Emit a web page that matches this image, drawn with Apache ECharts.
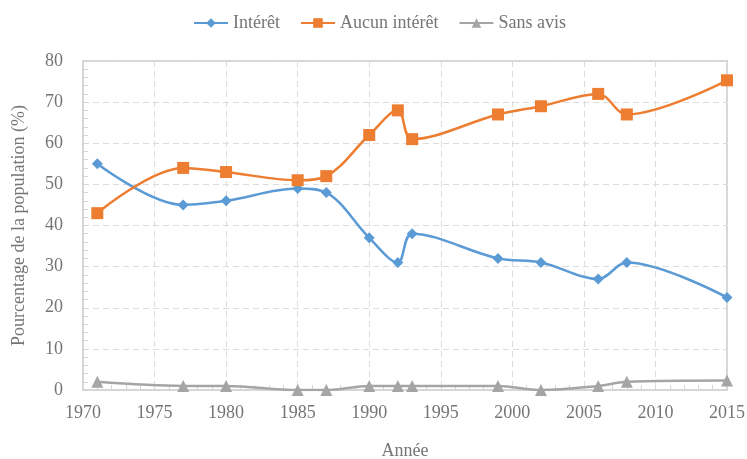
<!DOCTYPE html>
<html>
<head>
<meta charset="utf-8">
<script src="https://cdn.jsdelivr.net/npm/echarts@6/dist/echarts.min.js"></script>
<style>html,body{margin:0;padding:0;background:#fff}#c{width:747px;height:459px}</style>
</head>
<body>
<div id="c"></div>
<script>
const years = [1971, 1977, 1980, 1985, 1987, 1990, 1992, 1993, 1999, 2002, 2006, 2008, 2015];
const interet = [55, 45, 46, 49, 48, 37, 31, 38, 32, 31, 27, 31, 22.5];
const aucunInteret = [43, 54, 53, 51, 52, 62, 68, 61, 67, 69, 72, 67, 75.3];
const sansAvis = [2, 1, 1, 0, 0, 1, 1, 1, 1, 0, 1, 2, 2.3];
const seriesNames = ['Intérêt', 'Aucun intérêt', 'Sans avis'];

const font = 'Liberation Serif';
const txt = '#757575';
const axisCol = '#d6d6d6';
const pair = arr => years.map((y, i) => [y, arr[i]]);

const chart = echarts.init(document.getElementById('c'));
chart.setOption({
  animation: false,
  textStyle: { fontFamily: font },
  legend: {
    top: 9, left: 188, itemWidth: 34, itemHeight: 12, itemGap: 20,
    textStyle: { fontFamily: font, fontSize: 18, color: txt }
  },
  grid: { left: 83, right: 20, top: 61, bottom: 69, show: true, borderColor: axisCol, borderWidth: 2,
          containLabel: false, outerBoundsMode: 'none' },
  xAxis: {
    type: 'value', min: 1970, max: 2015, interval: 5,
    name: 'Année', nameLocation: 'middle', nameGap: 52,
    nameTextStyle: { fontFamily: font, fontSize: 18, color: txt },
    axisLine: { lineStyle: { color: axisCol, width: 2 } },
    axisTick: { show: true, inside: true, length: 5, lineStyle: { color: axisCol } },
    minorTick: { show: true, splitNumber: 5, length: 5, lineStyle: { color: axisCol } },
    axisLabel: { fontFamily: font, fontSize: 18, color: txt, margin: 14, formatter: v => String(v) },
    splitLine: { show: true, lineStyle: { color: '#dcdcdc', type: [6, 4] } }
  },
  yAxis: {
    type: 'value', min: 0, max: 80, interval: 10,
    name: 'Pourcentage de la population (%)', nameLocation: 'middle', nameGap: 55,
    nameTextStyle: { fontFamily: font, fontSize: 18, color: txt },
    axisLine: { show: true, lineStyle: { color: axisCol, width: 2 } },
    axisTick: { show: true, inside: true, length: 5, lineStyle: { color: axisCol } },
    minorTick: { show: true, splitNumber: 5, length: 5, lineStyle: { color: axisCol } },
    axisLabel: { fontFamily: font, fontSize: 18, color: txt, margin: 20 },
    splitLine: { show: true, lineStyle: { color: '#dcdcdc', type: [6, 4] } }
  },
  series: [
    { name: seriesNames[0], type: 'line', data: pair(interet), smooth: 0.35,
      symbol: 'diamond', symbolSize: 11, color: '#5B9BD5', lineStyle: { width: 2.5 } },
    { name: seriesNames[1], type: 'line', data: pair(aucunInteret), smooth: 0.35,
      symbol: 'rect', symbolSize: 12, color: '#ED7D31', lineStyle: { width: 2.5 } },
    { name: seriesNames[2], type: 'line', data: pair(sansAvis), smooth: 0.35,
      symbol: 'triangle', symbolSize: 12, color: '#A5A5A5', lineStyle: { width: 2.5 } }
  ]
});
</script>
</body>
</html>
